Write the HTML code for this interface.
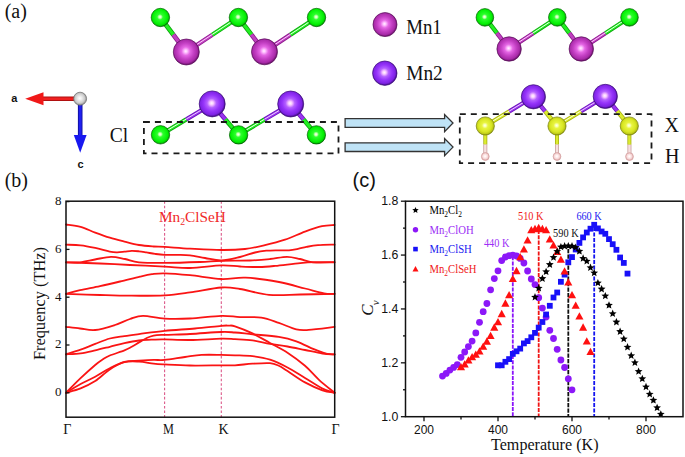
<!DOCTYPE html>
<html><head><meta charset="utf-8"><title>Figure</title>
<style>html,body{margin:0;padding:0;background:#fff;} svg{display:block;}</style></head>
<body><svg width="685" height="457" viewBox="0 0 685 457">
<rect width="685" height="457" fill="#fff"/>
<defs><radialGradient id="g_cl" cx="0.48" cy="0.47" r="0.52" fx="0.48" fy="0.47"><stop offset="0" stop-color="#ffffe8"/><stop offset="0.13" stop-color="#c8ffb8"/><stop offset="0.3" stop-color="#2cff2c"/><stop offset="0.78" stop-color="#04f004"/><stop offset="0.92" stop-color="#02c802"/><stop offset="1" stop-color="#017c01"/></radialGradient><radialGradient id="g_mn1" cx="0.48" cy="0.47" r="0.52" fx="0.48" fy="0.47"><stop offset="0" stop-color="#fff4ff"/><stop offset="0.12" stop-color="#ffc0ff"/><stop offset="0.32" stop-color="#e466e4"/><stop offset="0.6" stop-color="#c440c4"/><stop offset="0.86" stop-color="#a82aa8"/><stop offset="1" stop-color="#6a126a"/></radialGradient><radialGradient id="g_mn2" cx="0.48" cy="0.47" r="0.52" fx="0.48" fy="0.47"><stop offset="0" stop-color="#fff8ff"/><stop offset="0.14" stop-color="#f8c8ff"/><stop offset="0.34" stop-color="#b460ff"/><stop offset="0.6" stop-color="#9634fa"/><stop offset="0.86" stop-color="#7e22e4"/><stop offset="1" stop-color="#46108a"/></radialGradient><radialGradient id="g_y" cx="0.48" cy="0.47" r="0.52" fx="0.48" fy="0.47"><stop offset="0" stop-color="#ffffee"/><stop offset="0.14" stop-color="#f8ffb0"/><stop offset="0.32" stop-color="#e8f440"/><stop offset="0.7" stop-color="#d8e622"/><stop offset="0.9" stop-color="#bcc816"/><stop offset="1" stop-color="#8a9210"/></radialGradient><radialGradient id="g_h" cx="0.48" cy="0.47" r="0.52" fx="0.48" fy="0.47"><stop offset="0" stop-color="#ffffff"/><stop offset="0.25" stop-color="#fff2f2"/><stop offset="0.65" stop-color="#f6d6d6"/><stop offset="1" stop-color="#dca4a4"/></radialGradient><radialGradient id="g_gray" cx="0.48" cy="0.47" r="0.52" fx="0.48" fy="0.47"><stop offset="0" stop-color="#ffffff"/><stop offset="0.3" stop-color="#ececec"/><stop offset="0.7" stop-color="#cccccc"/><stop offset="1" stop-color="#909090"/></radialGradient></defs>
<text x="4.7" y="17.9" font-family='"Liberation Serif", serif' font-size="20" fill="#111" text-anchor="start" >(a)</text><line x1="160.40" y1="17.50" x2="173.35" y2="34.75" stroke="#0aa00a" stroke-width="4.6"/><line x1="160.40" y1="17.50" x2="173.35" y2="34.75" stroke="#22f022" stroke-width="2.9999999999999996"/><line x1="173.35" y1="34.75" x2="186.30" y2="52.00" stroke="#8a1a8a" stroke-width="4.6"/><line x1="173.35" y1="34.75" x2="186.30" y2="52.00" stroke="#c040c0" stroke-width="2.9999999999999996"/><line x1="186.30" y1="52.00" x2="212.35" y2="34.75" stroke="#8a1a8a" stroke-width="4.4"/><line x1="186.30" y1="52.00" x2="212.35" y2="34.75" stroke="#c040c0" stroke-width="2.8000000000000003"/><line x1="186.13" y1="51.75" x2="212.18" y2="34.50" stroke="#ffd0ff" stroke-width="1"/><line x1="212.35" y1="34.75" x2="238.40" y2="17.50" stroke="#0aa00a" stroke-width="4.4"/><line x1="212.35" y1="34.75" x2="238.40" y2="17.50" stroke="#22f022" stroke-width="2.8000000000000003"/><line x1="212.18" y1="34.50" x2="238.23" y2="17.25" stroke="#eaffea" stroke-width="1"/><line x1="238.40" y1="17.50" x2="251.45" y2="34.65" stroke="#0aa00a" stroke-width="4.6"/><line x1="238.40" y1="17.50" x2="251.45" y2="34.65" stroke="#22f022" stroke-width="2.9999999999999996"/><line x1="251.45" y1="34.65" x2="264.50" y2="51.80" stroke="#8a1a8a" stroke-width="4.6"/><line x1="251.45" y1="34.65" x2="264.50" y2="51.80" stroke="#c040c0" stroke-width="2.9999999999999996"/><line x1="264.50" y1="51.80" x2="290.50" y2="34.65" stroke="#8a1a8a" stroke-width="4.4"/><line x1="264.50" y1="51.80" x2="290.50" y2="34.65" stroke="#c040c0" stroke-width="2.8000000000000003"/><line x1="264.33" y1="51.55" x2="290.33" y2="34.40" stroke="#ffd0ff" stroke-width="1"/><line x1="290.50" y1="34.65" x2="316.50" y2="17.50" stroke="#0aa00a" stroke-width="4.4"/><line x1="290.50" y1="34.65" x2="316.50" y2="17.50" stroke="#22f022" stroke-width="2.8000000000000003"/><line x1="290.33" y1="34.40" x2="316.33" y2="17.25" stroke="#eaffea" stroke-width="1"/><circle cx="160.4" cy="17.5" r="9.2" fill="url(#g_cl)" stroke="#026a02" stroke-width="0.7"/><circle cx="238.4" cy="17.5" r="9.2" fill="url(#g_cl)" stroke="#026a02" stroke-width="0.7"/><circle cx="316.5" cy="17.5" r="9.2" fill="url(#g_cl)" stroke="#026a02" stroke-width="0.7"/><circle cx="186.3" cy="52" r="13" fill="url(#g_mn1)" stroke="#5a0e5a" stroke-width="0.7"/><circle cx="264.5" cy="51.8" r="13" fill="url(#g_mn1)" stroke="#5a0e5a" stroke-width="0.7"/><line x1="484.90" y1="17.40" x2="497.00" y2="33.20" stroke="#0aa00a" stroke-width="4.4"/><line x1="484.90" y1="17.40" x2="497.00" y2="33.20" stroke="#22f022" stroke-width="2.8000000000000003"/><line x1="497.00" y1="33.20" x2="509.10" y2="49.00" stroke="#8a1a8a" stroke-width="4.4"/><line x1="497.00" y1="33.20" x2="509.10" y2="49.00" stroke="#c040c0" stroke-width="2.8000000000000003"/><line x1="509.10" y1="49.00" x2="533.20" y2="33.20" stroke="#8a1a8a" stroke-width="4.2"/><line x1="509.10" y1="49.00" x2="533.20" y2="33.20" stroke="#c040c0" stroke-width="2.6"/><line x1="508.94" y1="48.75" x2="533.04" y2="32.95" stroke="#ffd0ff" stroke-width="1"/><line x1="533.20" y1="33.20" x2="557.30" y2="17.40" stroke="#0aa00a" stroke-width="4.2"/><line x1="533.20" y1="33.20" x2="557.30" y2="17.40" stroke="#22f022" stroke-width="2.6"/><line x1="533.04" y1="32.95" x2="557.14" y2="17.15" stroke="#eaffea" stroke-width="1"/><line x1="557.30" y1="17.40" x2="569.30" y2="33.20" stroke="#0aa00a" stroke-width="4.4"/><line x1="557.30" y1="17.40" x2="569.30" y2="33.20" stroke="#22f022" stroke-width="2.8000000000000003"/><line x1="569.30" y1="33.20" x2="581.30" y2="49.00" stroke="#8a1a8a" stroke-width="4.4"/><line x1="569.30" y1="33.20" x2="581.30" y2="49.00" stroke="#c040c0" stroke-width="2.8000000000000003"/><line x1="581.30" y1="49.00" x2="605.40" y2="33.20" stroke="#8a1a8a" stroke-width="4.2"/><line x1="581.30" y1="49.00" x2="605.40" y2="33.20" stroke="#c040c0" stroke-width="2.6"/><line x1="581.14" y1="48.75" x2="605.24" y2="32.95" stroke="#ffd0ff" stroke-width="1"/><line x1="605.40" y1="33.20" x2="629.50" y2="17.40" stroke="#0aa00a" stroke-width="4.2"/><line x1="605.40" y1="33.20" x2="629.50" y2="17.40" stroke="#22f022" stroke-width="2.6"/><line x1="605.24" y1="32.95" x2="629.34" y2="17.15" stroke="#eaffea" stroke-width="1"/><circle cx="484.9" cy="17.4" r="8.8" fill="url(#g_cl)" stroke="#026a02" stroke-width="0.7"/><circle cx="557.3" cy="17.4" r="8.8" fill="url(#g_cl)" stroke="#026a02" stroke-width="0.7"/><circle cx="629.5" cy="17.4" r="8.8" fill="url(#g_cl)" stroke="#026a02" stroke-width="0.7"/><circle cx="509.1" cy="49" r="12.2" fill="url(#g_mn1)" stroke="#5a0e5a" stroke-width="0.7"/><circle cx="581.3" cy="49" r="12.2" fill="url(#g_mn1)" stroke="#5a0e5a" stroke-width="0.7"/><circle cx="385" cy="24.6" r="12" fill="url(#g_mn1)" stroke="#5a0e5a" stroke-width="0.7"/><circle cx="384.8" cy="73.2" r="12.2" fill="url(#g_mn2)" stroke="#3a0a78" stroke-width="0.7"/><text x="406.2" y="33.6" font-family='"Liberation Serif", serif' font-size="20" fill="#111" text-anchor="start" textLength="35.6" lengthAdjust="spacingAndGlyphs">Mn1</text><text x="406.2" y="80.4" font-family='"Liberation Serif", serif' font-size="20" fill="#111" text-anchor="start" textLength="36.6" lengthAdjust="spacingAndGlyphs">Mn2</text><line x1="80" y1="98.7" x2="40" y2="98.7" stroke="#b01010" stroke-width="4.4"/><line x1="80" y1="98.7" x2="40" y2="98.7" stroke="#f02020" stroke-width="2.6"/><polygon points="25.2,98.7 43.5,92.2 43.5,105.2" fill="#f01818"/><line x1="80.2" y1="99" x2="80.2" y2="137" stroke="#1010a0" stroke-width="4.6"/><line x1="80.2" y1="99" x2="80.2" y2="137" stroke="#2020f0" stroke-width="2.8"/><polygon points="80.2,152.8 73.8,135 86.6,135" fill="#1818f0"/><circle cx="80.1" cy="98.7" r="6.5" fill="url(#g_gray)" stroke="#6a6a6a" stroke-width="0.7"/><text x="11.2" y="101.9" font-family='"Liberation Sans", sans-serif' font-size="11" fill="#111" text-anchor="start" font-weight="bold">a</text><text x="77.5" y="167.7" font-family='"Liberation Sans", sans-serif' font-size="11" fill="#111" text-anchor="start" font-weight="bold">c</text><line x1="160.50" y1="134.80" x2="186.35" y2="119.35" stroke="#0aa00a" stroke-width="4.4"/><line x1="160.50" y1="134.80" x2="186.35" y2="119.35" stroke="#22f022" stroke-width="2.8000000000000003"/><line x1="160.35" y1="134.54" x2="186.20" y2="119.09" stroke="#eaffea" stroke-width="1"/><line x1="186.35" y1="119.35" x2="212.20" y2="103.90" stroke="#6a14b8" stroke-width="4.4"/><line x1="186.35" y1="119.35" x2="212.20" y2="103.90" stroke="#9a34f0" stroke-width="2.8000000000000003"/><line x1="186.20" y1="119.09" x2="212.05" y2="103.64" stroke="#f0d0ff" stroke-width="1"/><line x1="212.20" y1="103.90" x2="225.40" y2="119.40" stroke="#6a14b8" stroke-width="4.6"/><line x1="212.20" y1="103.90" x2="225.40" y2="119.40" stroke="#9a34f0" stroke-width="2.9999999999999996"/><line x1="225.40" y1="119.40" x2="238.60" y2="134.90" stroke="#0aa00a" stroke-width="4.6"/><line x1="225.40" y1="119.40" x2="238.60" y2="134.90" stroke="#22f022" stroke-width="2.9999999999999996"/><line x1="238.60" y1="134.90" x2="264.65" y2="119.45" stroke="#0aa00a" stroke-width="4.4"/><line x1="238.60" y1="134.90" x2="264.65" y2="119.45" stroke="#22f022" stroke-width="2.8000000000000003"/><line x1="238.45" y1="134.64" x2="264.50" y2="119.19" stroke="#eaffea" stroke-width="1"/><line x1="264.65" y1="119.45" x2="290.70" y2="104.00" stroke="#6a14b8" stroke-width="4.4"/><line x1="264.65" y1="119.45" x2="290.70" y2="104.00" stroke="#9a34f0" stroke-width="2.8000000000000003"/><line x1="264.50" y1="119.19" x2="290.55" y2="103.74" stroke="#f0d0ff" stroke-width="1"/><line x1="290.70" y1="104.00" x2="303.55" y2="119.45" stroke="#6a14b8" stroke-width="4.6"/><line x1="290.70" y1="104.00" x2="303.55" y2="119.45" stroke="#9a34f0" stroke-width="2.9999999999999996"/><line x1="303.55" y1="119.45" x2="316.40" y2="134.90" stroke="#0aa00a" stroke-width="4.6"/><line x1="303.55" y1="119.45" x2="316.40" y2="134.90" stroke="#22f022" stroke-width="2.9999999999999996"/><circle cx="160.5" cy="134.8" r="9.2" fill="url(#g_cl)" stroke="#026a02" stroke-width="0.7"/><circle cx="238.6" cy="134.9" r="9.2" fill="url(#g_cl)" stroke="#026a02" stroke-width="0.7"/><circle cx="316.4" cy="134.9" r="9.2" fill="url(#g_cl)" stroke="#026a02" stroke-width="0.7"/><circle cx="212.2" cy="103.9" r="13" fill="url(#g_mn2)" stroke="#3a0a78" stroke-width="0.7"/><circle cx="290.7" cy="104.0" r="13" fill="url(#g_mn2)" stroke="#3a0a78" stroke-width="0.7"/><rect x="143.9" y="122" width="194.6" height="31.4" fill="none" stroke="#1a1a1a" stroke-width="1.8" stroke-dasharray="6 5"/><text x="109.7" y="141.8" font-family='"Liberation Serif", serif' font-size="20" fill="#111" text-anchor="start" textLength="18.5" lengthAdjust="spacingAndGlyphs">Cl</text><polygon points="345.1,118.7 444.6,118.7 444.6,114.6 453,123.0 444.6,131.6 444.6,127.4 345.1,127.4" fill="#bfe3f6" stroke="#333" stroke-width="1.3" stroke-linejoin="miter"/><polygon points="345.1,142.8 444.6,142.8 444.6,138.6 453,147.1 444.6,155.6 444.6,151.5 345.1,151.5" fill="#bfe3f6" stroke="#333" stroke-width="1.3" stroke-linejoin="miter"/><line x1="485.30" y1="126.00" x2="509.35" y2="111.40" stroke="#a8b010" stroke-width="4.2"/><line x1="485.30" y1="126.00" x2="509.35" y2="111.40" stroke="#dcec30" stroke-width="2.6"/><line x1="485.14" y1="125.74" x2="509.19" y2="111.14" stroke="#faffd8" stroke-width="1"/><line x1="509.35" y1="111.40" x2="533.40" y2="96.80" stroke="#6a14b8" stroke-width="4.2"/><line x1="509.35" y1="111.40" x2="533.40" y2="96.80" stroke="#9a34f0" stroke-width="2.6"/><line x1="509.19" y1="111.14" x2="533.24" y2="96.54" stroke="#f0d0ff" stroke-width="1"/><line x1="533.40" y1="96.80" x2="545.20" y2="111.40" stroke="#6a14b8" stroke-width="4.4"/><line x1="533.40" y1="96.80" x2="545.20" y2="111.40" stroke="#9a34f0" stroke-width="2.8000000000000003"/><line x1="545.20" y1="111.40" x2="557.00" y2="126.00" stroke="#a8b010" stroke-width="4.4"/><line x1="545.20" y1="111.40" x2="557.00" y2="126.00" stroke="#dcec30" stroke-width="2.8000000000000003"/><line x1="557.00" y1="126.00" x2="581.15" y2="111.20" stroke="#a8b010" stroke-width="4.2"/><line x1="557.00" y1="126.00" x2="581.15" y2="111.20" stroke="#dcec30" stroke-width="2.6"/><line x1="556.84" y1="125.74" x2="580.99" y2="110.94" stroke="#faffd8" stroke-width="1"/><line x1="581.15" y1="111.20" x2="605.30" y2="96.40" stroke="#6a14b8" stroke-width="4.2"/><line x1="581.15" y1="111.20" x2="605.30" y2="96.40" stroke="#9a34f0" stroke-width="2.6"/><line x1="580.99" y1="110.94" x2="605.14" y2="96.14" stroke="#f0d0ff" stroke-width="1"/><line x1="605.30" y1="96.40" x2="617.30" y2="111.20" stroke="#6a14b8" stroke-width="4.4"/><line x1="605.30" y1="96.40" x2="617.30" y2="111.20" stroke="#9a34f0" stroke-width="2.8000000000000003"/><line x1="617.30" y1="111.20" x2="629.30" y2="126.00" stroke="#a8b010" stroke-width="4.4"/><line x1="617.30" y1="111.20" x2="629.30" y2="126.00" stroke="#dcec30" stroke-width="2.8000000000000003"/><line x1="485.30" y1="126.00" x2="485.30" y2="144.60" stroke="#a8b010" stroke-width="4.0"/><line x1="485.30" y1="126.00" x2="485.30" y2="144.60" stroke="#dcec30" stroke-width="2.4"/><line x1="485.30" y1="144.60" x2="485.30" y2="156.50" stroke="#c8a0a0" stroke-width="4.0"/><line x1="485.30" y1="144.60" x2="485.30" y2="156.50" stroke="#f6e0e0" stroke-width="2.4"/><line x1="557.00" y1="126.00" x2="557.00" y2="144.60" stroke="#a8b010" stroke-width="4.0"/><line x1="557.00" y1="126.00" x2="557.00" y2="144.60" stroke="#dcec30" stroke-width="2.4"/><line x1="557.00" y1="144.60" x2="557.00" y2="156.50" stroke="#c8a0a0" stroke-width="4.0"/><line x1="557.00" y1="144.60" x2="557.00" y2="156.50" stroke="#f6e0e0" stroke-width="2.4"/><line x1="629.30" y1="126.00" x2="629.42" y2="144.67" stroke="#a8b010" stroke-width="4.0"/><line x1="629.30" y1="126.00" x2="629.42" y2="144.67" stroke="#dcec30" stroke-width="2.4"/><line x1="629.42" y1="144.67" x2="629.50" y2="156.60" stroke="#c8a0a0" stroke-width="4.0"/><line x1="629.42" y1="144.67" x2="629.50" y2="156.60" stroke="#f6e0e0" stroke-width="2.4"/><circle cx="485.3" cy="126" r="9.1" fill="url(#g_y)" stroke="#7a8208" stroke-width="0.7"/><circle cx="557" cy="126" r="9.1" fill="url(#g_y)" stroke="#7a8208" stroke-width="0.7"/><circle cx="629.3" cy="126" r="9.1" fill="url(#g_y)" stroke="#7a8208" stroke-width="0.7"/><circle cx="485.3" cy="156.5" r="3.9" fill="url(#g_h)" stroke="#d4a0a0" stroke-width="0.7"/><circle cx="557" cy="156.5" r="3.9" fill="url(#g_h)" stroke="#d4a0a0" stroke-width="0.7"/><circle cx="629.5" cy="156.6" r="3.9" fill="url(#g_h)" stroke="#d4a0a0" stroke-width="0.7"/><circle cx="533.4" cy="96.8" r="12.1" fill="url(#g_mn2)" stroke="#3a0a78" stroke-width="0.7"/><circle cx="605.3" cy="96.4" r="12.1" fill="url(#g_mn2)" stroke="#3a0a78" stroke-width="0.7"/><rect x="459.8" y="114.2" width="191.7" height="48.9" fill="none" stroke="#1a1a1a" stroke-width="1.8" stroke-dasharray="6 5"/><text x="664.5" y="131.5" font-family='"Liberation Serif", serif' font-size="20" fill="#111" text-anchor="start" >X</text><text x="665" y="162.5" font-family='"Liberation Serif", serif' font-size="20" fill="#111" text-anchor="start" >H</text>
<text x="4.7" y="186.6" font-family='"Liberation Serif", serif' font-size="20" fill="#111" text-anchor="start" >(b)</text><line x1="164.6" y1="201.2" x2="164.6" y2="417.2" stroke="#dc5a8a" stroke-width="1.1" stroke-dasharray="2.6 1.95"/><line x1="221.3" y1="201.2" x2="221.3" y2="417.2" stroke="#dc5a8a" stroke-width="1.1" stroke-dasharray="2.6 1.95"/><g fill="none" stroke="#fa1414" stroke-width="1.8" stroke-linejoin="round" stroke-linecap="round"><path d="M66.00,224.50 C68.43,224.88 75.73,225.45 80.60,226.80 C85.47,228.15 90.33,230.78 95.20,232.60 C100.07,234.42 104.93,236.20 109.80,237.70 C114.67,239.20 119.53,240.38 124.40,241.60 C129.27,242.82 134.13,244.18 139.00,245.00 C143.87,245.82 149.33,246.18 153.60,246.50 C157.87,246.82 158.53,246.55 164.60,246.90 C170.67,247.25 180.55,248.08 190.00,248.60 C199.45,249.12 212.13,249.93 221.30,250.00 C230.47,250.07 237.72,249.80 245.00,249.00 C252.28,248.20 258.33,246.75 265.00,245.20 C271.67,243.65 278.33,241.97 285.00,239.70 C291.67,237.43 298.83,233.85 305.00,231.60 C311.17,229.35 317.07,227.30 322.00,226.20 C326.93,225.10 332.50,225.20 334.60,225.00"/><path d="M66.00,244.70 C68.43,244.80 75.73,244.77 80.60,245.30 C85.47,245.83 90.33,246.85 95.20,247.90 C100.07,248.95 106.15,250.87 109.80,251.60 C113.45,252.33 114.67,252.28 117.10,252.30 C119.53,252.32 121.97,251.95 124.40,251.70 C126.83,251.45 129.27,250.87 131.70,250.80 C134.13,250.73 136.57,251.03 139.00,251.30 C141.43,251.57 143.63,251.97 146.30,252.40 C148.97,252.83 151.95,253.48 155.00,253.90 C158.05,254.32 160.77,254.73 164.60,254.90 C168.43,255.07 173.77,254.82 178.00,254.90 C182.23,254.98 185.50,254.88 190.00,255.40 C194.50,255.92 199.78,257.15 205.00,258.00 C210.22,258.85 215.47,260.67 221.30,260.50 C227.13,260.33 234.38,258.33 240.00,257.00 C245.62,255.67 250.62,253.55 255.00,252.50 C259.38,251.45 262.47,251.07 266.30,250.70 C270.13,250.33 274.22,250.37 278.00,250.30 C281.78,250.23 285.67,250.53 289.00,250.30 C292.33,250.07 295.08,249.47 298.00,248.90 C300.92,248.33 303.17,247.52 306.50,246.90 C309.83,246.28 313.32,245.58 318.00,245.20 C322.68,244.82 331.83,244.70 334.60,244.60"/><path d="M66.00,262.30 C68.33,262.30 75.17,262.77 80.00,262.30 C84.83,261.83 89.83,260.42 95.00,259.50 C100.17,258.58 106.00,256.88 111.00,256.80 C116.00,256.72 120.33,258.08 125.00,259.00 C129.67,259.92 132.40,261.65 139.00,262.30 C145.60,262.95 154.43,262.95 164.60,262.90 C174.77,262.85 190.55,262.35 200.00,262.00 C209.45,261.65 212.97,261.05 221.30,260.80 C229.63,260.55 241.88,260.80 250.00,260.50 C258.12,260.20 263.83,259.62 270.00,259.00 C276.17,258.38 282.00,256.80 287.00,256.80 C292.00,256.80 295.67,258.08 300.00,259.00 C304.33,259.92 307.23,261.75 313.00,262.30 C318.77,262.85 331.00,262.30 334.60,262.30"/><path d="M66.00,262.30 C71.67,262.50 89.33,263.05 100.00,263.50 C110.67,263.95 119.23,264.48 130.00,265.00 C140.77,265.52 154.60,266.10 164.60,266.60 C174.60,267.10 180.55,268.20 190.00,268.00 C199.45,267.80 212.97,265.65 221.30,265.40 C229.63,265.15 233.72,266.23 240.00,266.50 C246.28,266.77 253.15,267.10 259.00,267.00 C264.85,266.90 268.23,266.55 275.10,265.90 C281.97,265.25 293.38,263.72 300.20,263.10 C307.02,262.48 310.27,262.37 316.00,262.20 C321.73,262.03 331.50,262.12 334.60,262.10"/><path d="M66.00,293.80 C68.33,293.20 74.33,291.48 80.00,290.20 C85.67,288.92 93.33,287.55 100.00,286.10 C106.67,284.65 113.33,283.08 120.00,281.50 C126.67,279.92 134.67,277.82 140.00,276.60 C145.33,275.38 147.90,274.75 152.00,274.20 C156.10,273.65 158.27,273.13 164.60,273.30 C170.93,273.47 180.55,274.25 190.00,275.20 C199.45,276.15 212.03,278.60 221.30,279.00 C230.57,279.40 235.98,277.10 245.60,277.60 C255.22,278.10 269.10,280.18 279.00,282.00 C288.90,283.82 297.50,286.62 305.00,288.50 C312.50,290.38 319.07,292.42 324.00,293.30 C328.93,294.18 332.83,293.72 334.60,293.80"/><path d="M66.00,293.80 C71.67,294.00 89.33,294.68 100.00,295.00 C110.67,295.32 119.23,295.65 130.00,295.70 C140.77,295.75 154.60,295.85 164.60,295.30 C174.60,294.75 180.55,293.70 190.00,292.40 C199.45,291.10 212.97,288.07 221.30,287.50 C229.63,286.93 232.05,287.78 240.00,289.00 C247.95,290.22 259.00,293.88 269.00,294.80 C279.00,295.72 289.07,294.67 300.00,294.50 C310.93,294.33 328.83,293.92 334.60,293.80"/><path d="M66.00,326.80 C68.33,327.08 75.13,327.97 80.00,328.50 C84.87,329.03 89.37,330.58 95.20,330.00 C101.03,329.42 109.20,326.83 115.00,325.00 C120.80,323.17 125.33,320.53 130.00,319.00 C134.67,317.47 137.23,315.87 143.00,315.80 C148.77,315.73 156.77,318.15 164.60,318.60 C172.43,319.05 180.55,318.97 190.00,318.50 C199.45,318.03 212.97,316.03 221.30,315.80 C229.63,315.57 233.33,316.80 240.00,317.10 C246.67,317.40 254.83,316.63 261.30,317.60 C267.77,318.57 272.97,320.93 278.80,322.90 C284.63,324.87 291.33,328.23 296.30,329.40 C301.27,330.57 302.22,330.32 308.60,329.90 C314.98,329.48 330.27,327.40 334.60,326.90"/><path d="M66.00,354.30 C68.43,353.53 75.73,351.43 80.60,349.70 C85.47,347.97 90.33,345.77 95.20,343.90 C100.07,342.03 104.93,339.80 109.80,338.50 C114.67,337.20 119.53,336.83 124.40,336.10 C129.27,335.37 132.30,334.98 139.00,334.10 C145.70,333.22 155.27,331.73 164.60,330.80 C173.93,329.87 185.55,329.33 195.00,328.50 C204.45,327.67 215.70,326.28 221.30,325.80 C226.90,325.32 226.32,325.52 228.60,325.60 C230.88,325.68 231.02,325.00 235.00,326.30 C238.98,327.60 246.67,330.62 252.50,333.40 C258.33,336.18 264.17,339.78 270.00,343.00 C275.83,346.22 281.67,348.90 287.50,352.70 C293.33,356.50 299.75,361.28 305.00,365.80 C310.25,370.32 314.07,375.30 319.00,379.80 C323.93,384.30 332.00,390.63 334.60,392.80"/><path d="M66.00,354.30 C68.43,354.15 75.73,354.05 80.60,353.40 C85.47,352.75 90.33,351.50 95.20,350.40 C100.07,349.30 104.93,348.02 109.80,346.80 C114.67,345.58 119.53,344.15 124.40,343.10 C129.27,342.05 134.13,341.08 139.00,340.50 C143.87,339.92 149.33,339.78 153.60,339.60 C157.87,339.42 158.53,339.33 164.60,339.40 C170.67,339.47 180.55,340.12 190.00,340.00 C199.45,339.88 213.80,338.83 221.30,338.70 C228.80,338.57 229.80,338.92 235.00,339.20 C240.20,339.48 246.67,339.62 252.50,340.40 C258.33,341.18 264.17,342.88 270.00,343.90 C275.83,344.92 281.67,345.48 287.50,346.50 C293.33,347.52 299.17,348.83 305.00,350.00 C310.83,351.17 317.57,352.77 322.50,353.50 C327.43,354.23 332.58,354.25 334.60,354.40"/><path d="M66.00,392.80 C68.43,390.37 75.73,382.83 80.60,378.20 C85.47,373.57 91.55,368.10 95.20,365.00 C98.85,361.90 100.07,361.18 102.50,359.60 C104.93,358.02 106.15,357.03 109.80,355.50 C113.45,353.97 120.75,351.85 124.40,350.40 C128.05,348.95 129.27,348.13 131.70,346.80 C134.13,345.47 136.57,343.83 139.00,342.40 C141.43,340.97 143.87,339.33 146.30,338.20 C148.73,337.07 150.55,336.17 153.60,335.60 C156.65,335.03 158.53,335.07 164.60,334.80 C170.67,334.53 180.55,334.47 190.00,334.00 C199.45,333.53 213.80,332.25 221.30,332.00 C228.80,331.75 229.80,332.12 235.00,332.50 C240.20,332.88 245.20,333.57 252.50,334.30 C259.80,335.03 271.50,335.73 278.80,336.90 C286.10,338.07 290.47,339.25 296.30,341.30 C302.13,343.35 308.85,347.15 313.80,349.20 C318.75,351.25 322.53,352.73 326.00,353.60 C329.47,354.47 333.17,354.27 334.60,354.40"/><path d="M66.00,392.80 C68.43,391.33 75.73,386.68 80.60,384.00 C85.47,381.32 90.33,379.33 95.20,376.70 C100.07,374.07 104.93,370.68 109.80,368.20 C114.67,365.72 119.53,363.05 124.40,361.80 C129.27,360.55 134.13,361.02 139.00,360.70 C143.87,360.38 149.33,360.03 153.60,359.90 C157.87,359.77 159.37,360.38 164.60,359.90 C169.83,359.42 178.83,357.83 185.00,357.00 C191.17,356.17 195.55,355.25 201.60,354.90 C207.65,354.55 215.73,354.83 221.30,354.90 C226.87,354.97 229.80,355.08 235.00,355.30 C240.20,355.52 246.67,355.47 252.50,356.20 C258.33,356.93 264.17,357.82 270.00,359.70 C275.83,361.58 281.67,364.45 287.50,367.50 C293.33,370.55 299.17,374.48 305.00,378.00 C310.83,381.52 317.57,386.13 322.50,388.60 C327.43,391.07 332.58,392.10 334.60,392.80"/><path d="M66.00,392.80 C68.43,392.07 75.73,390.35 80.60,388.40 C85.47,386.45 90.33,384.27 95.20,381.10 C100.07,377.93 104.93,372.55 109.80,369.40 C114.67,366.25 119.53,363.50 124.40,362.20 C129.27,360.90 134.13,361.37 139.00,361.60 C143.87,361.83 149.33,363.13 153.60,363.60 C157.87,364.07 158.53,364.08 164.60,364.40 C170.67,364.72 180.55,365.35 190.00,365.50 C199.45,365.65 213.80,365.33 221.30,365.30 C228.80,365.27 229.80,365.57 235.00,365.30 C240.20,365.03 246.67,364.05 252.50,363.70 C258.33,363.35 265.62,362.85 270.00,363.20 C274.38,363.55 275.88,364.50 278.80,365.80 C281.72,367.10 283.13,368.23 287.50,371.00 C291.87,373.77 299.17,379.18 305.00,382.40 C310.83,385.62 317.57,388.57 322.50,390.30 C327.43,392.03 332.58,392.38 334.60,392.80"/></g><rect x="66" y="201.2" width="268.7" height="216.0" fill="none" stroke="#111" stroke-width="1.5"/><line x1="66" y1="392.8" x2="69.5" y2="392.8" stroke="#111" stroke-width="1.3"/><text x="61.6" y="396.1" font-family='"Liberation Serif", serif' font-size="13" fill="#111" text-anchor="end" >0</text><line x1="66" y1="345.0" x2="69.5" y2="345.0" stroke="#111" stroke-width="1.3"/><text x="61.6" y="348.3" font-family='"Liberation Serif", serif' font-size="13" fill="#111" text-anchor="end" >2</text><line x1="66" y1="297.2" x2="69.5" y2="297.2" stroke="#111" stroke-width="1.3"/><text x="61.6" y="300.50000000000006" font-family='"Liberation Serif", serif' font-size="13" fill="#111" text-anchor="end" >4</text><line x1="66" y1="249.4" x2="69.5" y2="249.4" stroke="#111" stroke-width="1.3"/><text x="61.6" y="252.70000000000005" font-family='"Liberation Serif", serif' font-size="13" fill="#111" text-anchor="end" >6</text><line x1="66" y1="201.6" x2="69.5" y2="201.6" stroke="#111" stroke-width="1.3"/><text x="61.6" y="204.90000000000003" font-family='"Liberation Serif", serif' font-size="13" fill="#111" text-anchor="end" >8</text><text x="158.9" y="221.6" font-family='"Liberation Serif", serif' font-size="15.3" fill="#f02a2a" text-anchor="start" >Mn<tspan font-size="9.8" dy="3.8">2</tspan><tspan dy="-3.8">ClSeH</tspan></text><text x="63.3" y="433.5" font-family='"Liberation Serif", serif' font-size="14" fill="#111" text-anchor="start" >Γ</text><text x="162.9" y="433.5" font-family='"Liberation Serif", serif' font-size="14.5" fill="#111" text-anchor="start" textLength="10.9" lengthAdjust="spacingAndGlyphs">M</text><text x="218.6" y="433.5" font-family='"Liberation Serif", serif' font-size="14" fill="#111" text-anchor="start" >K</text><text x="331.4" y="433.5" font-family='"Liberation Serif", serif' font-size="14" fill="#111" text-anchor="start" >Γ</text><text transform="translate(45.2,360.1) rotate(-90)" font-family='"Liberation Serif", serif' font-size="16.5" fill="#111" textLength="113" lengthAdjust="spacingAndGlyphs">Frequency (THz)</text>
<text x="352.6" y="186.7" font-family='"Liberation Sans", sans-serif' font-size="20" fill="#111" text-anchor="start" >(c)</text><line x1="512.80" y1="255" x2="512.80" y2="416.7" stroke="#8a14fa" stroke-width="1.8" stroke-dasharray="4 1.2" stroke-dashoffset="3.9"/><line x1="538.70" y1="230" x2="538.70" y2="416.7" stroke="#f01414" stroke-width="1.8" stroke-dasharray="4.1 1.3" stroke-dashoffset="0.2"/><line x1="568.30" y1="246" x2="568.30" y2="416.7" stroke="#111" stroke-width="1.8" stroke-dasharray="4.1 1.4" stroke-dashoffset="2.4"/><line x1="594.20" y1="225" x2="594.20" y2="416.7" stroke="#1414f0" stroke-width="1.8" stroke-dasharray="4.1 1.4" stroke-dashoffset="3.6"/><circle cx="442.50" cy="376.10" r="3.4" fill="#8c18f8"/><circle cx="446.20" cy="373.40" r="3.4" fill="#8c18f8"/><circle cx="449.90" cy="370.10" r="3.4" fill="#8c18f8"/><circle cx="453.60" cy="367.40" r="3.4" fill="#8c18f8"/><circle cx="457.30" cy="364.60" r="3.4" fill="#8c18f8"/><circle cx="461.00" cy="357.30" r="3.4" fill="#8c18f8"/><circle cx="464.70" cy="352.00" r="3.4" fill="#8c18f8"/><circle cx="468.40" cy="346.60" r="3.4" fill="#8c18f8"/><circle cx="472.10" cy="341.10" r="3.4" fill="#8c18f8"/><circle cx="475.80" cy="332.90" r="3.4" fill="#8c18f8"/><circle cx="479.50" cy="322.30" r="3.4" fill="#8c18f8"/><circle cx="483.20" cy="311.70" r="3.4" fill="#8c18f8"/><circle cx="486.90" cy="303.50" r="3.4" fill="#8c18f8"/><circle cx="490.60" cy="289.80" r="3.4" fill="#8c18f8"/><circle cx="494.30" cy="278.60" r="3.4" fill="#8c18f8"/><circle cx="498.00" cy="270.80" r="3.4" fill="#8c18f8"/><circle cx="501.70" cy="260.60" r="3.4" fill="#8c18f8"/><circle cx="505.40" cy="257.00" r="3.4" fill="#8c18f8"/><circle cx="509.10" cy="255.70" r="3.4" fill="#8c18f8"/><circle cx="512.80" cy="255.10" r="3.4" fill="#8c18f8"/><circle cx="516.50" cy="256.00" r="3.4" fill="#8c18f8"/><circle cx="520.20" cy="258.40" r="3.4" fill="#8c18f8"/><circle cx="523.90" cy="263.00" r="3.4" fill="#8c18f8"/><circle cx="527.60" cy="271.00" r="3.4" fill="#8c18f8"/><circle cx="531.30" cy="279.00" r="3.4" fill="#8c18f8"/><circle cx="535.00" cy="284.60" r="3.4" fill="#8c18f8"/><circle cx="538.70" cy="297.70" r="3.4" fill="#8c18f8"/><circle cx="542.40" cy="308.10" r="3.4" fill="#8c18f8"/><circle cx="546.10" cy="317.10" r="3.4" fill="#8c18f8"/><circle cx="549.80" cy="330.30" r="3.4" fill="#8c18f8"/><circle cx="553.50" cy="338.50" r="3.4" fill="#8c18f8"/><circle cx="557.20" cy="349.30" r="3.4" fill="#8c18f8"/><circle cx="560.90" cy="360.00" r="3.4" fill="#8c18f8"/><circle cx="564.60" cy="367.50" r="3.4" fill="#8c18f8"/><circle cx="568.30" cy="378.80" r="3.4" fill="#8c18f8"/><circle cx="572.00" cy="389.80" r="3.4" fill="#8c18f8"/><rect x="495.10" y="362.40" width="5.8" height="5.8" fill="#1810f8"/><rect x="498.80" y="362.40" width="5.8" height="5.8" fill="#1810f8"/><rect x="502.50" y="358.90" width="5.8" height="5.8" fill="#1810f8"/><rect x="506.20" y="356.20" width="5.8" height="5.8" fill="#1810f8"/><rect x="509.90" y="351.00" width="5.8" height="5.8" fill="#1810f8"/><rect x="513.60" y="348.40" width="5.8" height="5.8" fill="#1810f8"/><rect x="517.30" y="345.70" width="5.8" height="5.8" fill="#1810f8"/><rect x="521.00" y="340.50" width="5.8" height="5.8" fill="#1810f8"/><rect x="524.70" y="338.20" width="5.8" height="5.8" fill="#1810f8"/><rect x="528.40" y="334.40" width="5.8" height="5.8" fill="#1810f8"/><rect x="532.10" y="330.00" width="5.8" height="5.8" fill="#1810f8"/><rect x="535.80" y="324.70" width="5.8" height="5.8" fill="#1810f8"/><rect x="539.50" y="319.10" width="5.8" height="5.8" fill="#1810f8"/><rect x="543.20" y="311.60" width="5.8" height="5.8" fill="#1810f8"/><rect x="546.90" y="302.90" width="5.8" height="5.8" fill="#1810f8"/><rect x="550.60" y="294.60" width="5.8" height="5.8" fill="#1810f8"/><rect x="554.30" y="289.60" width="5.8" height="5.8" fill="#1810f8"/><rect x="558.00" y="278.90" width="5.8" height="5.8" fill="#1810f8"/><rect x="561.70" y="271.70" width="5.8" height="5.8" fill="#1810f8"/><rect x="565.40" y="259.40" width="5.8" height="5.8" fill="#1810f8"/><rect x="569.10" y="254.20" width="5.8" height="5.8" fill="#1810f8"/><rect x="572.80" y="246.60" width="5.8" height="5.8" fill="#1810f8"/><rect x="576.50" y="240.00" width="5.8" height="5.8" fill="#1810f8"/><rect x="580.20" y="234.50" width="5.8" height="5.8" fill="#1810f8"/><rect x="583.90" y="229.60" width="5.8" height="5.8" fill="#1810f8"/><rect x="587.60" y="225.80" width="5.8" height="5.8" fill="#1810f8"/><rect x="591.30" y="221.90" width="5.8" height="5.8" fill="#1810f8"/><rect x="595.00" y="225.50" width="5.8" height="5.8" fill="#1810f8"/><rect x="598.70" y="228.60" width="5.8" height="5.8" fill="#1810f8"/><rect x="602.40" y="230.90" width="5.8" height="5.8" fill="#1810f8"/><rect x="606.10" y="236.20" width="5.8" height="5.8" fill="#1810f8"/><rect x="609.80" y="241.30" width="5.8" height="5.8" fill="#1810f8"/><rect x="613.50" y="246.90" width="5.8" height="5.8" fill="#1810f8"/><rect x="617.20" y="254.60" width="5.8" height="5.8" fill="#1810f8"/><rect x="620.90" y="260.00" width="5.8" height="5.8" fill="#1810f8"/><rect x="624.60" y="270.70" width="5.8" height="5.8" fill="#1810f8"/><polygon points="461.00,362.95 465.05,370.25 456.95,370.25" fill="#ff1010"/><polygon points="464.70,360.25 468.75,367.55 460.65,367.55" fill="#ff1010"/><polygon points="468.40,356.15 472.45,363.45 464.35,363.45" fill="#ff1010"/><polygon points="472.10,352.95 476.15,360.25 468.05,360.25" fill="#ff1010"/><polygon points="475.80,350.45 479.85,357.75 471.75,357.75" fill="#ff1010"/><polygon points="479.50,347.15 483.55,354.45 475.45,354.45" fill="#ff1010"/><polygon points="483.20,342.55 487.25,349.85 479.15,349.85" fill="#ff1010"/><polygon points="486.90,337.35 490.95,344.65 482.85,344.65" fill="#ff1010"/><polygon points="490.60,331.65 494.65,338.95 486.55,338.95" fill="#ff1010"/><polygon points="494.30,323.35 498.35,330.65 490.25,330.65" fill="#ff1010"/><polygon points="498.00,317.95 502.05,325.25 493.95,325.25" fill="#ff1010"/><polygon points="501.70,309.85 505.75,317.15 497.65,317.15" fill="#ff1010"/><polygon points="505.40,299.35 509.45,306.65 501.35,306.65" fill="#ff1010"/><polygon points="509.10,290.95 513.15,298.25 505.05,298.25" fill="#ff1010"/><polygon points="512.80,274.65 516.85,281.95 508.75,281.95" fill="#ff1010"/><polygon points="516.50,266.85 520.55,274.15 512.45,274.15" fill="#ff1010"/><polygon points="520.20,252.95 524.25,260.25 516.15,260.25" fill="#ff1010"/><polygon points="523.90,245.15 527.95,252.45 519.85,252.45" fill="#ff1010"/><polygon points="527.60,236.25 531.65,243.55 523.55,243.55" fill="#ff1010"/><polygon points="531.30,225.95 535.35,233.25 527.25,233.25" fill="#ff1010"/><polygon points="535.00,224.85 539.05,232.15 530.95,232.15" fill="#ff1010"/><polygon points="538.70,223.75 542.75,231.05 534.65,231.05" fill="#ff1010"/><polygon points="542.40,224.85 546.45,232.15 538.35,232.15" fill="#ff1010"/><polygon points="546.10,225.95 550.15,233.25 542.05,233.25" fill="#ff1010"/><polygon points="549.80,235.25 553.85,242.55 545.75,242.55" fill="#ff1010"/><polygon points="553.50,241.15 557.55,248.45 549.45,248.45" fill="#ff1010"/><polygon points="557.20,247.65 561.25,254.95 553.15,254.95" fill="#ff1010"/><polygon points="560.90,255.55 564.95,262.85 556.85,262.85" fill="#ff1010"/><polygon points="564.60,267.15 568.65,274.45 560.55,274.45" fill="#ff1010"/><polygon points="568.30,278.15 572.35,285.45 564.25,285.45" fill="#ff1010"/><polygon points="572.00,291.05 576.05,298.35 567.95,298.35" fill="#ff1010"/><polygon points="575.70,301.55 579.75,308.85 571.65,308.85" fill="#ff1010"/><polygon points="579.40,312.25 583.45,319.55 575.35,319.55" fill="#ff1010"/><polygon points="583.10,323.35 587.15,330.65 579.05,330.65" fill="#ff1010"/><polygon points="586.80,337.15 590.85,344.45 582.75,344.45" fill="#ff1010"/><polygon points="590.50,347.65 594.55,354.95 586.45,354.95" fill="#ff1010"/><polygon points="535.00,293.10 536.08,295.71 538.90,295.93 536.75,297.77 537.41,300.52 535.00,299.05 532.59,300.52 533.25,297.77 531.10,295.93 533.92,295.71" fill="#000"/><polygon points="538.70,284.10 539.78,286.71 542.60,286.93 540.45,288.77 541.11,291.52 538.70,290.05 536.29,291.52 536.95,288.77 534.80,286.93 537.62,286.71" fill="#000"/><polygon points="542.40,274.50 543.48,277.11 546.30,277.33 544.15,279.17 544.81,281.92 542.40,280.45 539.99,281.92 540.65,279.17 538.50,277.33 541.32,277.11" fill="#000"/><polygon points="546.10,267.70 547.18,270.31 550.00,270.53 547.85,272.37 548.51,275.12 546.10,273.65 543.69,275.12 544.35,272.37 542.20,270.53 545.02,270.31" fill="#000"/><polygon points="549.80,260.50 550.88,263.11 553.70,263.33 551.55,265.17 552.21,267.92 549.80,266.45 547.39,267.92 548.05,265.17 545.90,263.33 548.72,263.11" fill="#000"/><polygon points="553.50,253.40 554.58,256.01 557.40,256.23 555.25,258.07 555.91,260.82 553.50,259.35 551.09,260.82 551.75,258.07 549.60,256.23 552.42,256.01" fill="#000"/><polygon points="557.20,247.40 558.28,250.01 561.10,250.23 558.95,252.07 559.61,254.82 557.20,253.34 554.79,254.82 555.45,252.07 553.30,250.23 556.12,250.01" fill="#000"/><polygon points="560.90,242.90 561.98,245.51 564.80,245.73 562.65,247.57 563.31,250.32 560.90,248.84 558.49,250.32 559.15,247.57 557.00,245.73 559.82,245.51" fill="#000"/><polygon points="564.60,242.10 565.68,244.71 568.50,244.93 566.35,246.77 567.01,249.52 564.60,248.04 562.19,249.52 562.85,246.77 560.70,244.93 563.52,244.71" fill="#000"/><polygon points="568.30,241.90 569.38,244.51 572.20,244.73 570.05,246.57 570.71,249.32 568.30,247.84 565.89,249.32 566.55,246.57 564.40,244.73 567.22,244.51" fill="#000"/><polygon points="572.00,242.10 573.08,244.71 575.90,244.93 573.75,246.77 574.41,249.52 572.00,248.04 569.59,249.52 570.25,246.77 568.10,244.93 570.92,244.71" fill="#000"/><polygon points="575.70,243.40 576.78,246.01 579.60,246.23 577.45,248.07 578.11,250.82 575.70,249.34 573.29,250.82 573.95,248.07 571.80,246.23 574.62,246.01" fill="#000"/><polygon points="579.40,247.20 580.48,249.81 583.30,250.03 581.15,251.87 581.81,254.62 579.40,253.15 576.99,254.62 577.65,251.87 575.50,250.03 578.32,249.81" fill="#000"/><polygon points="583.10,254.30 584.18,256.91 587.00,257.13 584.85,258.97 585.51,261.72 583.10,260.25 580.69,261.72 581.35,258.97 579.20,257.13 582.02,256.91" fill="#000"/><polygon points="586.80,257.10 587.88,259.71 590.70,259.93 588.55,261.77 589.21,264.52 586.80,263.05 584.39,264.52 585.05,261.77 582.90,259.93 585.72,259.71" fill="#000"/><polygon points="590.50,263.60 591.58,266.21 594.40,266.43 592.25,268.27 592.91,271.02 590.50,269.55 588.09,271.02 588.75,268.27 586.60,266.43 589.42,266.21" fill="#000"/><polygon points="594.20,268.80 595.28,271.41 598.10,271.63 595.95,273.47 596.61,276.22 594.20,274.75 591.79,276.22 592.45,273.47 590.30,271.63 593.12,271.41" fill="#000"/><polygon points="597.90,278.90 598.98,281.51 601.80,281.73 599.65,283.57 600.31,286.32 597.90,284.85 595.49,286.32 596.15,283.57 594.00,281.73 596.82,281.51" fill="#000"/><polygon points="601.60,285.00 602.68,287.61 605.50,287.83 603.35,289.67 604.01,292.42 601.60,290.95 599.19,292.42 599.85,289.67 597.70,287.83 600.52,287.61" fill="#000"/><polygon points="605.30,291.90 606.38,294.51 609.20,294.73 607.05,296.57 607.71,299.32 605.30,297.85 602.89,299.32 603.55,296.57 601.40,294.73 604.22,294.51" fill="#000"/><polygon points="609.00,301.20 610.08,303.81 612.90,304.03 610.75,305.87 611.41,308.62 609.00,307.15 606.59,308.62 607.25,305.87 605.10,304.03 607.92,303.81" fill="#000"/><polygon points="612.70,309.60 613.78,312.21 616.60,312.43 614.45,314.27 615.11,317.02 612.70,315.55 610.29,317.02 610.95,314.27 608.80,312.43 611.62,312.21" fill="#000"/><polygon points="616.40,318.00 617.48,320.61 620.30,320.83 618.15,322.67 618.81,325.42 616.40,323.95 613.99,325.42 614.65,322.67 612.50,320.83 615.32,320.61" fill="#000"/><polygon points="620.10,327.50 621.18,330.11 624.00,330.33 621.85,332.17 622.51,334.92 620.10,333.45 617.69,334.92 618.35,332.17 616.20,330.33 619.02,330.11" fill="#000"/><polygon points="623.80,334.90 624.88,337.51 627.70,337.73 625.55,339.57 626.21,342.32 623.80,340.85 621.39,342.32 622.05,339.57 619.90,337.73 622.72,337.51" fill="#000"/><polygon points="627.50,343.10 628.58,345.71 631.40,345.93 629.25,347.77 629.91,350.52 627.50,349.05 625.09,350.52 625.75,347.77 623.60,345.93 626.42,345.71" fill="#000"/><polygon points="631.20,351.60 632.28,354.21 635.10,354.43 632.95,356.27 633.61,359.02 631.20,357.55 628.79,359.02 629.45,356.27 627.30,354.43 630.12,354.21" fill="#000"/><polygon points="634.90,358.60 635.98,361.21 638.80,361.43 636.65,363.27 637.31,366.02 634.90,364.55 632.49,366.02 633.15,363.27 631.00,361.43 633.82,361.21" fill="#000"/><polygon points="638.60,367.40 639.68,370.01 642.50,370.23 640.35,372.07 641.01,374.82 638.60,373.35 636.19,374.82 636.85,372.07 634.70,370.23 637.52,370.01" fill="#000"/><polygon points="642.30,374.70 643.38,377.31 646.20,377.53 644.05,379.37 644.71,382.12 642.30,380.65 639.89,382.12 640.55,379.37 638.40,377.53 641.22,377.31" fill="#000"/><polygon points="646.00,382.80 647.08,385.41 649.90,385.63 647.75,387.47 648.41,390.22 646.00,388.75 643.59,390.22 644.25,387.47 642.10,385.63 644.92,385.41" fill="#000"/><polygon points="649.70,390.10 650.78,392.71 653.60,392.93 651.45,394.77 652.11,397.52 649.70,396.05 647.29,397.52 647.95,394.77 645.80,392.93 648.62,392.71" fill="#000"/><polygon points="653.40,396.20 654.48,398.81 657.30,399.03 655.15,400.87 655.81,403.62 653.40,402.15 650.99,403.62 651.65,400.87 649.50,399.03 652.32,398.81" fill="#000"/><polygon points="657.10,403.70 658.18,406.31 661.00,406.53 658.85,408.37 659.51,411.12 657.10,409.65 654.69,411.12 655.35,408.37 653.20,406.53 656.02,406.31" fill="#000"/><polygon points="660.80,410.20 661.88,412.81 664.70,413.03 662.55,414.87 663.21,417.62 660.80,416.15 658.39,417.62 659.05,414.87 656.90,413.03 659.72,412.81" fill="#000"/><rect x="405.5" y="201.2" width="277.5" height="215.5" fill="none" stroke="#111" stroke-width="1.5"/><line x1="400.9" y1="416.70" x2="405.5" y2="416.70" stroke="#111" stroke-width="1.3"/><text x="398.3" y="420.7" font-family='"Liberation Sans", sans-serif' font-size="12.3" fill="#111" text-anchor="end" >1.0</text><line x1="403.0" y1="389.76" x2="405.5" y2="389.76" stroke="#111" stroke-width="1.3"/><line x1="400.9" y1="362.82" x2="405.5" y2="362.82" stroke="#111" stroke-width="1.3"/><text x="398.3" y="366.825" font-family='"Liberation Sans", sans-serif' font-size="12.3" fill="#111" text-anchor="end" >1.2</text><line x1="403.0" y1="335.89" x2="405.5" y2="335.89" stroke="#111" stroke-width="1.3"/><line x1="400.9" y1="308.95" x2="405.5" y2="308.95" stroke="#111" stroke-width="1.3"/><text x="398.3" y="312.95000000000005" font-family='"Liberation Sans", sans-serif' font-size="12.3" fill="#111" text-anchor="end" >1.4</text><line x1="403.0" y1="282.01" x2="405.5" y2="282.01" stroke="#111" stroke-width="1.3"/><line x1="400.9" y1="255.07" x2="405.5" y2="255.07" stroke="#111" stroke-width="1.3"/><text x="398.3" y="259.075" font-family='"Liberation Sans", sans-serif' font-size="12.3" fill="#111" text-anchor="end" >1.6</text><line x1="403.0" y1="228.14" x2="405.5" y2="228.14" stroke="#111" stroke-width="1.3"/><line x1="400.9" y1="201.20" x2="405.5" y2="201.20" stroke="#111" stroke-width="1.3"/><text x="398.3" y="205.2" font-family='"Liberation Sans", sans-serif' font-size="12.3" fill="#111" text-anchor="end" >1.8</text><line x1="424.00" y1="416.7" x2="424.00" y2="421.3" stroke="#111" stroke-width="1.3"/><text x="424.0" y="433.6" font-family='"Liberation Sans", sans-serif' font-size="12" fill="#111" text-anchor="middle" >200</text><line x1="461.00" y1="416.7" x2="461.00" y2="419.5" stroke="#111" stroke-width="1.3"/><line x1="498.00" y1="416.7" x2="498.00" y2="421.3" stroke="#111" stroke-width="1.3"/><text x="498.0" y="433.6" font-family='"Liberation Sans", sans-serif' font-size="12" fill="#111" text-anchor="middle" >400</text><line x1="535.00" y1="416.7" x2="535.00" y2="419.5" stroke="#111" stroke-width="1.3"/><line x1="572.00" y1="416.7" x2="572.00" y2="421.3" stroke="#111" stroke-width="1.3"/><text x="572.0" y="433.6" font-family='"Liberation Sans", sans-serif' font-size="12" fill="#111" text-anchor="middle" >600</text><line x1="609.00" y1="416.7" x2="609.00" y2="419.5" stroke="#111" stroke-width="1.3"/><line x1="646.00" y1="416.7" x2="646.00" y2="421.3" stroke="#111" stroke-width="1.3"/><text x="646.0" y="433.6" font-family='"Liberation Sans", sans-serif' font-size="12" fill="#111" text-anchor="middle" >800</text><text x="491" y="450.2" font-family='"Liberation Serif", serif' font-size="16" fill="#111" text-anchor="start" textLength="107.5" lengthAdjust="spacingAndGlyphs">Temperature (K)</text><text transform="translate(373.1,315.7) rotate(-90)" font-family='"Liberation Serif", serif' font-size="17" fill="#111"><tspan font-style="italic">C</tspan><tspan font-size="11" dx="-0.9" dy="5.6" font-style="italic">v</tspan></text><polygon points="415.50,206.90 416.40,209.06 418.73,209.25 416.96,210.77 417.50,213.05 415.50,211.83 413.50,213.05 414.04,210.77 412.27,209.25 414.60,209.06" fill="#000"/><text transform="translate(429.5,214.0) scale(0.93,1)" font-family='"Liberation Serif", serif' font-size="11.5" fill="#000">Mn<tspan font-size="8" dy="3">2</tspan><tspan dy="-3">Cl</tspan><tspan font-size="8" dy="3">2</tspan></text><circle cx="415.50" cy="229.70" r="2.7" fill="#8c18f8"/><text transform="translate(429.5,233.6) scale(0.93,1)" font-family='"Liberation Serif", serif' font-size="11.5" fill="#9b30f5">Mn<tspan font-size="8" dy="3">2</tspan><tspan dy="-3">ClOH</tspan></text><rect x="413.20" y="246.80" width="4.6" height="4.6" fill="#1810f8"/><text transform="translate(429.5,253.0) scale(0.93,1)" font-family='"Liberation Serif", serif' font-size="11.5" fill="#1a1af0">Mn<tspan font-size="8" dy="3">2</tspan><tspan dy="-3">ClSH</tspan></text><polygon points="415.50,266.00 418.50,271.40 412.50,271.40" fill="#ff1010"/><text transform="translate(429.5,272.6) scale(0.93,1)" font-family='"Liberation Serif", serif' font-size="11.5" fill="#f01a1a">Mn<tspan font-size="8" dy="3">2</tspan><tspan dy="-3">ClSeH</tspan></text><text x="483.9" y="246.7" font-family='"Liberation Serif", serif' font-size="12.2" fill="#9b30f5" text-anchor="start" textLength="25.6" lengthAdjust="spacingAndGlyphs">440 K</text><text x="518" y="219.7" font-family='"Liberation Serif", serif' font-size="12.2" fill="#f01a1a" text-anchor="start" textLength="25.6" lengthAdjust="spacingAndGlyphs">510 K</text><text x="553.1" y="237.2" font-family='"Liberation Serif", serif' font-size="12.2" fill="#111" text-anchor="start" textLength="25.5" lengthAdjust="spacingAndGlyphs">590 K</text><text x="576.4" y="219.7" font-family='"Liberation Serif", serif' font-size="12.2" fill="#1a1af0" text-anchor="start" textLength="25.3" lengthAdjust="spacingAndGlyphs">660 K</text>
</svg></body></html>
